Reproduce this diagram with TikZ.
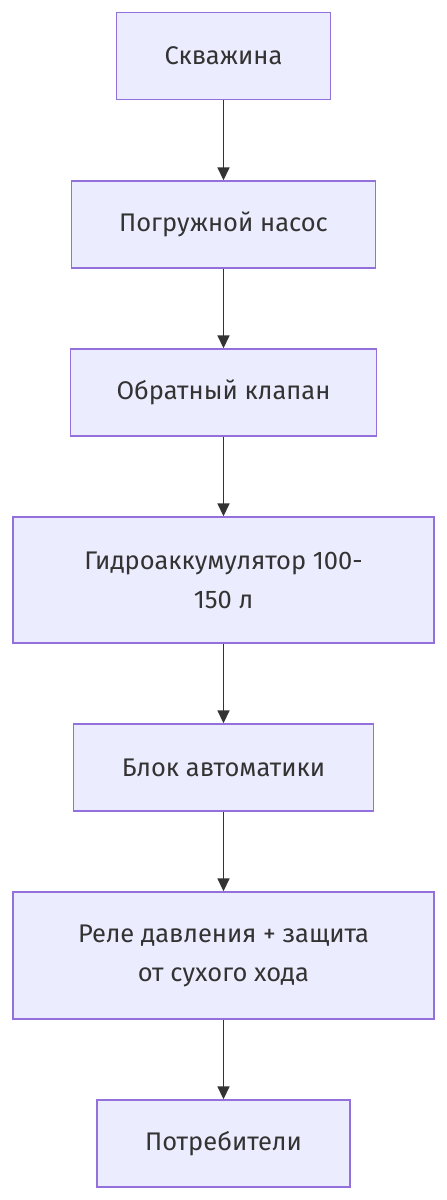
\documentclass[tikz,border=0pt]{standalone}
\usepackage{fontspec}
\setmainfont{Fira Sans}
\usetikzlibrary{arrows.meta}
\definecolor{boxfill}{HTML}{ECECFF}
\definecolor{boxline}{HTML}{9370DB}
\definecolor{ink}{HTML}{333333}
\tikzset{pin/.style={draw=ink, line width=1.6pt, -{Triangle[length=13pt, width=12pt]}},
  blk/.style={draw=boxline, fill=boxfill, line width=1.4pt, text=ink, align=center,
    font=\fontsize{25.5}{39}\selectfont, minimum height=87pt, inner sep=0pt}}

\begin{document}
\begin{tikzpicture}[x=1pt, y=-1pt]
  \useasboundingbox (0,0) rectangle (447,1200);
  % stages, top to bottom
  \node[blk, minimum width=214pt] (well) at (223.5,56) {Скважина};
  \node[blk, minimum width=304pt] (pump) at (223.5,224.5) {Погружной насос};
  \node[blk, minimum width=306pt] (valve) at (223.5,392.5) {Обратный клапан};
  \node[blk, minimum width=421pt, minimum height=126pt] (tank) at (223.5,580) {Гидроаккумулятор 100-\\150 л};
  \node[blk, minimum width=300pt] (ctrl) at (223.5,767.5) {Блок автоматики};
  \node[blk, minimum width=421pt, minimum height=127pt] (relay) at (223.5,955.5) {Реле давления + защита\\от сухого хода};
  \node[blk, minimum width=253pt] (users) at (223.5,1143.5) {Потребители};
  % flow
  \foreach \a/\b in {well/pump, pump/valve, valve/tank, tank/ctrl, ctrl/relay, relay/users}{
    \draw[pin] (\a.south) -- (\b.north);}
\end{tikzpicture}
\end{document}
